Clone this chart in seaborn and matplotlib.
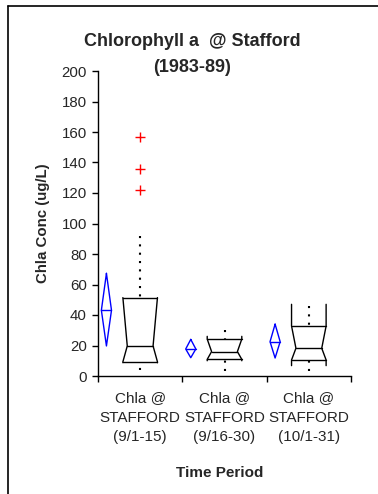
import numpy as np
import pandas as pd
import seaborn as sns
import matplotlib
matplotlib.use("Agg")
import matplotlib.pyplot as plt
from matplotlib.lines import Line2D

# box-plot statistics (ug/L)
categories = ["Chla @\nSTAFFORD\n(9/1-15)", "Chla @\nSTAFFORD\n(9/16-30)", "Chla @\nSTAFFORD\n(10/1-31)"]
q1 = [9.3, 10.9, 10.5]
median = [19.7, 16.0, 18.2]
q3 = [51.4, 24.2, 32.8]
notch_lo = [8.7, 10.0, 6.8]
notch_hi = [51.4, 26.0, 47.0]
whisker_lo = [4.0, 3.5, 3.5]
whisker_hi = [92.0, 30.0, 46.0]

# mean with confidence interval (blue diamonds)
means = [43.1, 17.7, 22.5]
mean_lo = [19.7, 12.0, 11.8]
mean_hi = [67.3, 24.0, 34.0]

# outliers (red crosses)
outlier_group = [0, 0, 0]
outlier_vals = [157, 136, 122]

sns.set_theme(style="ticks")
plt.rcParams['font.family'] = ['Liberation Sans', 'DejaVu Sans']

W, H = 378, 494
fig = plt.figure(figsize=(W / 100, H / 100), dpi=100)
ax = fig.add_axes([98 / W, 1 - 376 / H, 253 / W, 305 / H])

hw = 0.205      # half box width
inset = 0.052   # notch depth
dx = 0.4        # diamond offset
dw = 0.06       # diamond half width

for i in range(len(categories)):
    left, right = i - hw, i + hw
    nl, nr = left + inset, right - inset
    top, up_join = max(q3[i], notch_hi[i]), min(q3[i], notch_hi[i])
    bot, lo_join = min(q1[i], notch_lo[i]), max(q1[i], notch_lo[i])
    ys = [top, up_join, median[i], lo_join, bot]
    ax.plot([left, left, nl, left, left], ys, color="black", lw=1.0)
    ax.plot([right, right, nr, right, right], ys, color="black", lw=1.0)
    ax.plot([left, right], [q3[i], q3[i]], color="black", lw=1.0)
    ax.plot([nl, nr], [median[i], median[i]], color="black", lw=1.0)
    ax.plot([left, right], [q1[i], q1[i]], color="black", lw=1.0)
    # dotted whiskers
    ax.plot([i, i], [whisker_hi[i], q3[i]], color="black", lw=1.5, ls=(0, (1, 3)))
    ax.plot([i, i], [whisker_lo[i], q1[i]], color="black", lw=1.5, ls=(0, (1, 3)))
    # mean diamond
    c = i - dx
    ax.plot([c, c + dw, c, c - dw, c], [mean_hi[i], means[i], mean_lo[i], means[i], mean_hi[i]],
            color="blue", lw=1.0)
    ax.plot([c - dw, c + dw], [means[i], means[i]], color="blue", lw=1.0)

outliers = pd.DataFrame({"pos": outlier_group, "chla": outlier_vals})
sns.scatterplot(data=outliers, x="pos", y="chla", marker="+", color="red", s=55,
                linewidth=1.0, ax=ax, legend=False)

ax.set_xlim(-0.5, 2.5)
ax.set_ylim(0, 200)
ax.set_yticks(np.arange(0, 201, 20))
ax.set_xticks([-0.5, 0.5, 1.5, 2.5])
ax.set_xticklabels([])
ax.set_xticks(range(len(categories)), minor=True)
ax.set_xticklabels(categories, minor=True, fontsize=11, linespacing=1.48)
ax.tick_params(axis="x", which="minor", length=0, pad=11)
ax.tick_params(axis="both", which="major", length=4, width=1, direction="out", color="black")
ax.tick_params(axis="y", labelsize=10.8, pad=4)
sns.despine(ax=ax)
for s in ["left", "bottom"]:
    ax.spines[s].set_color("black")
    ax.spines[s].set_linewidth(1.0)

ax.set_ylabel("Chla Conc (ug/L)", fontsize=10.8, fontweight="bold")
ax.yaxis.set_label_coords(-0.19, 0.5)
ax.set_xlabel("")
fig.text(220 / W, 1 - 473 / H, "Time Period", fontsize=11, fontweight="bold",
         ha="center", va="center")
fig.text(192.5 / W, 1 - 54.5 / H, "Chlorophyll a  @ Stafford\n(1983-89)", fontsize=13,
         fontweight="bold", ha="center", va="center", linespacing=1.7)

# chart-area border (cut off at right and bottom)
fig.add_artist(Line2D([7.5 / W, 7.5 / W], [0, 1 - 6 / H], color="black", lw=1.2))
fig.add_artist(Line2D([7.5 / W, 1], [1 - 6 / H, 1 - 6 / H], color="black", lw=1.2))

fig.savefig("out.png", dpi=100)
